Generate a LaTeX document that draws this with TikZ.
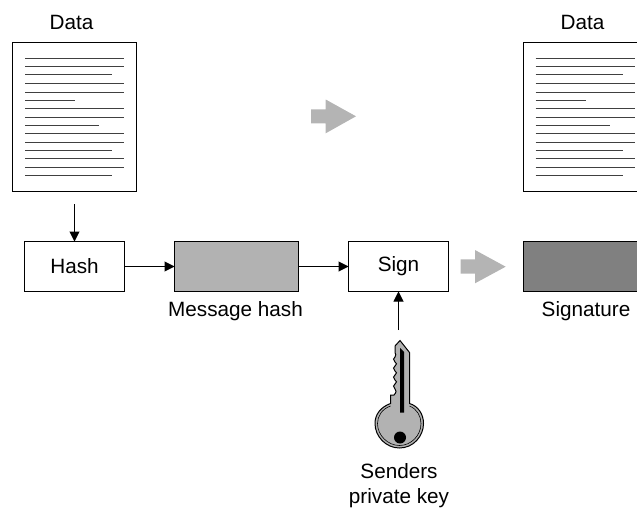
\documentclass[tikz,border=0pt]{standalone}
\usepackage{fontspec}
\setmainfont{Liberation Sans}
\usetikzlibrary{arrows.meta}
\definecolor{hashgray}{RGB}{178,178,178}
\definecolor{siggray}{RGB}{128,128,128}
\definecolor{arrowgray}{RGB}{180,180,180}
\tikzset{
  x=1pt,y=-1pt,
  box/.style={draw=black,line width=1pt,fill=white,minimum width=100pt,minimum height=50pt,inner sep=0pt,outer sep=0pt,anchor=north west},
  hashbox/.style={box,fill=hashgray,minimum width=124pt},
  sigbox/.style={box,fill=siggray,minimum width=125pt},
  lbl/.style={font=\fontsize{20.7}{24}\selectfont,inner sep=0pt,anchor=base},
  conn/.style={draw=black,line width=1pt,-{Triangle[length=10pt,width=10pt]}},
  txt/.style={draw=black!75,line width=1pt},
  page/.style={draw=black,line width=1pt,fill=white,minimum width=124pt,minimum height=149pt,inner sep=0pt,outer sep=0pt,anchor=north west},
  bigarrow/.style={fill=arrowgray,draw=none},
}
\begin{document}
\begin{tikzpicture}
\useasboundingbox (0,0) rectangle (637,511);
\clip (0,0) rectangle (637,511);
% documents
\node[page] (docL) at (12.5,42.5) {};
\node[page] (docR) at (523,42.5) {};
\node[lbl] (dataL) at (71.5,30) {Data};
\node[lbl] (dataR) at (582.5,30) {Data};
\foreach \dx in {0,510.5}{
  \foreach \y/\e in {58.5/124,67/124,75/112,83.5/124,92/124,100/75,108.5/124,117/124,125/99,133.5/124,142/124,150/112,158.5/124,167/124,175/112}{
    \draw[txt] (25+\dx,\y) -- (\e+\dx,\y);
  }
}
% boxes
\node[box] (hash) at (24.5,241.5) {};
\node[lbl,anchor=center] (hashT) at (hash.center) {Hash};
\node[hashbox] (mhash) at (174.5,241.5) {};
\node[box] (sign) at (348.5,241.5) {};
\node[lbl,anchor=center] (signT) at (sign.center) {Sign};
\node[sigbox] (sig) at (523,241.5) {};
\node[lbl] (mhashT) at (235.5,316) {Message hash};
\node[lbl] (sigT) at (586,316) {Signature};
\node[lbl] (k1) at (399,478) {Senders};
\node[lbl] (k2) at (399,503) {private key};
% connectors
\coordinate (hashIn) at (74.5,204);
\coordinate (keyTop) at (398.5,330);
\draw[conn] (hashIn) -- (hashIn |- hash.north);
\draw[conn] (hash.east) -- (mhash.west);
\draw[conn] (mhash.east) -- (sign.west);
\draw[conn] (keyTop) -- (keyTop |- sign.south);
% block arrows
\fill[bigarrow] (311,109.3) -- (325.7,109.3) -- (325.7,99.5) -- (356,116.3) -- (325.7,133.3) -- (325.7,123.3) -- (311,123.3) -- cycle;
\fill[bigarrow] (460.5,259.3) -- (475,259.3) -- (475,250) -- (505.7,266.7) -- (475,283.3) -- (475,273.5) -- (460.5,273.5) -- cycle;
% key
\draw[black,line width=1pt,fill=hashgray]
  (400,340.5) -- (409.5,352.5) -- (409.5,403.5)
  .. controls (418,406) and (423.5,414) .. (423.5,423.5)
  .. controls (423.5,436.5) and (413,448) .. (399.5,448)
  .. controls (386,448) and (375,436.5) .. (375,423.5)
  .. controls (375,414) and (381,407) .. (390.5,403.5)
  -- (390.5,395) -- (394,395)
  .. controls (397,392) and (396,390) .. (395,389)
  .. controls (393,387) and (393,385) .. (395,384)
  .. controls (397,382.5) and (397,381) .. (395,380)
  .. controls (393,378) and (393,376) .. (395,375)
  .. controls (397,373.5) and (397,372) .. (395,371)
  .. controls (393,369) and (393,367) .. (395,366)
  .. controls (397,364.5) and (397,363) .. (395,362)
  .. controls (393,360) and (393,358) .. (395,357)
  .. controls (396,355.5) and (396,354) .. (395,352.5)
  -- (395,346) -- cycle;
\draw[black,line width=0.6pt] (390.5,406) .. controls (382,409) and (377.5,416) .. (377.5,423.5)
  .. controls (377.5,435.5) and (388,445.5) .. (399.5,445.5)
  .. controls (411,445.5) and (421,435.5) .. (421,423.5)
  .. controls (421,416) and (417,409) .. (409.5,406);
\fill[black] (400,348) -- (404,352) -- (404,412.5) -- (400,412.5) -- cycle;
\fill[black] (400,437.5) circle[radius=6];
\end{tikzpicture}
\end{document}
